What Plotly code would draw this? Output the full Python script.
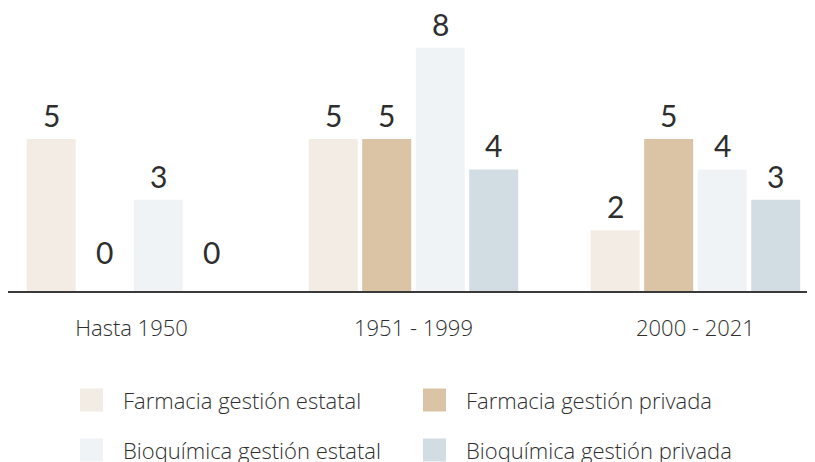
import plotly.graph_objects as go

categories = ["Hasta 1950", "1951 - 1999", "2000 - 2021"]
series_names = [
    "Farmacia gestión estatal",
    "Farmacia gestión privada",
    "Bioquímica gestión estatal",
    "Bioquímica gestión privada",
]
farmacia_estatal = [5, 5, 2]
farmacia_privada = [0, 5, 5]
bioquimica_estatal = [3, 8, 4]
bioquimica_privada = [0, 4, 3]
series_values = [farmacia_estatal, farmacia_privada, bioquimica_estatal, bioquimica_privada]
colors = ["#F3ECE5", "#DBC3A6", "#EFF3F6", "#D2DDE3"]

FONT = "Open Sans"
NUMFONT = "Lato"
TXT = "#2e2e2e"

W, H = 807, 454
L, R, T, B = 0, 0, 0, 171
PW, PH = W - L - R, H - T - B

fig = go.Figure()
for name, vals, col in zip(series_names, series_values, colors):
    fig.add_trace(go.Bar(x=categories, y=vals, name=name, marker_color=col,
                         marker_line_width=0, showlegend=False))

bargap = 0.241
slot = (1 - bargap) / 4
annotations = []
for i, vals in enumerate(series_values):
    for j, v in enumerate(vals):
        annotations.append(dict(
            x=j + (i - 1.5) * slot, y=v, xref="x", yref="y",
            text=str(v), showarrow=False, yanchor="bottom",
            yshift=4 if v > 0 else 19,
            font=dict(family=NUMFONT, size=30, color=TXT)))

# manual legend (2 columns x 2 rows); positions in figure pixels
def px_x(x):
    return (x - L) / PW

def px_y(y):
    return (T + PH - y) / PH

legend_pos = [(72, 392), (415, 392), (72, 442), (415, 442)]
shapes = []
for (lx, ly), name, col in zip(legend_pos, series_names, colors):
    shapes.append(dict(type="rect", xref="paper", yref="paper",
                       x0=px_x(lx), x1=px_x(lx + 23), y0=px_y(ly - 11.5), y1=px_y(ly + 11.5),
                       fillcolor=col, line_width=0))
    annotations.append(dict(x=px_x(lx + 41), y=px_y(ly), xref="paper", yref="paper",
                            text=name, showarrow=False, xanchor="left", yanchor="middle",
                            font=dict(family=FONT, size=22, color=TXT, weight=300)))

fig.update_layout(
    width=W, height=H,
    margin=dict(l=L, r=R, t=T, b=B),
    paper_bgcolor="white", plot_bgcolor="white",
    barmode="group", bargap=bargap, bargroupgap=0.084,
    showlegend=False,
    annotations=annotations, shapes=shapes,
    xaxis=dict(type="category", range=[-0.438, 2.424], showline=True,
               linecolor="#3a3a3a", linewidth=2, ticks="", showgrid=False,
               tickfont=dict(family=FONT, size=22, color=TXT, weight=300), ticklabelstandoff=17),
    yaxis=dict(range=[0, PH / 30.4], visible=False, showgrid=False, zeroline=False),
)

fig.write_html("out.html")
